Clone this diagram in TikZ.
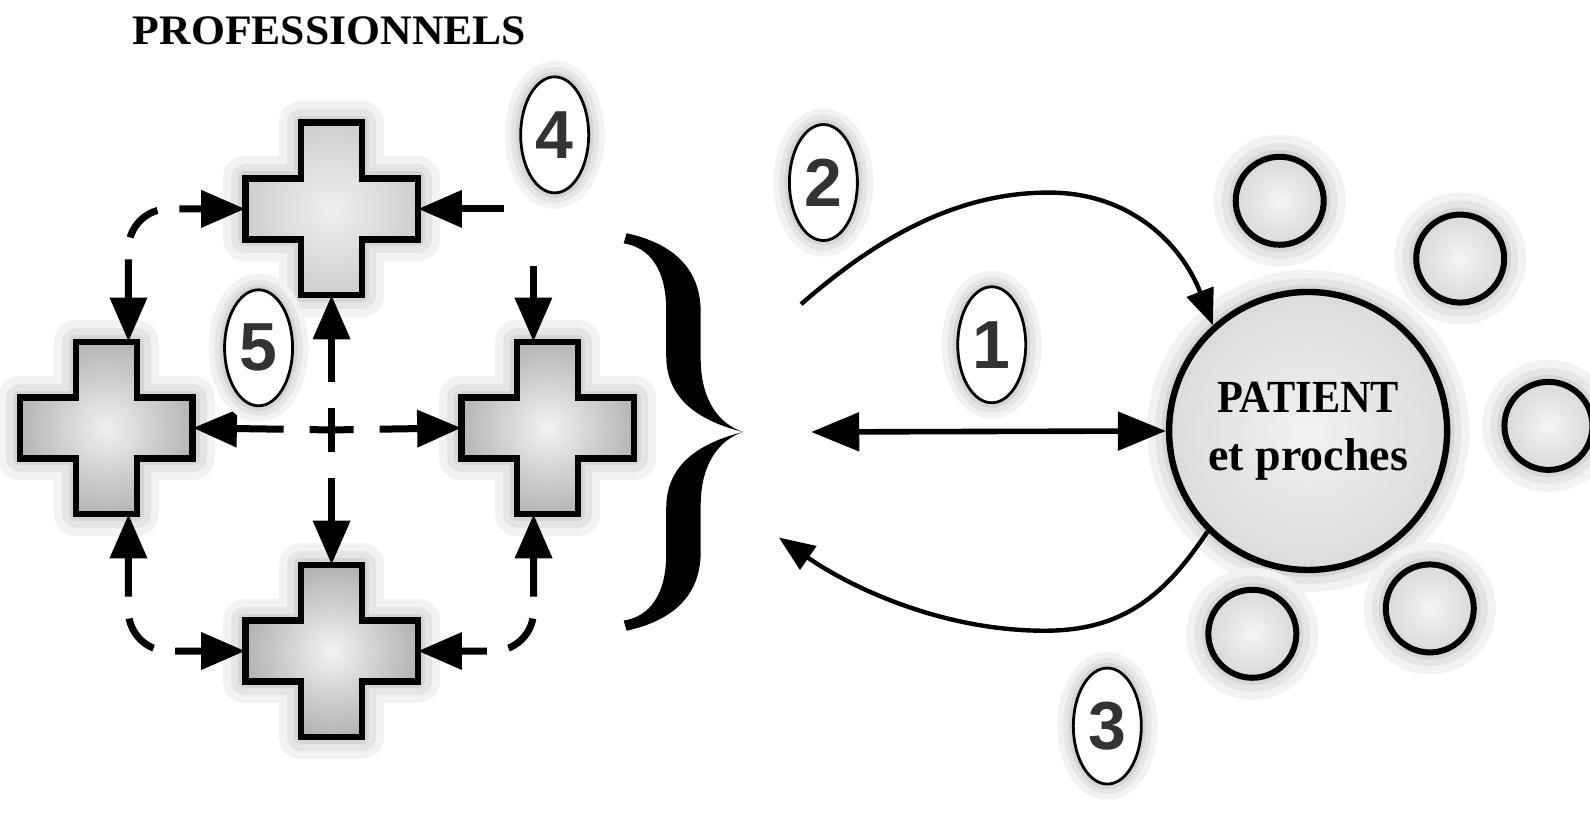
\documentclass[tikz,border=0pt]{standalone}
\usepackage{fontspec}
\setmainfont{Liberation Serif}
\newfontfamily\digitfont{Liberation Sans}
\usetikzlibrary{arrows.meta,shapes.geometric}
\tikzset{
  dtip/.tip={Triangle[length=22pt,width=18pt]},
  rtip/.tip={Triangle[length=24pt,width=19pt]},
  ctip/.tip={Triangle[length=18pt,width=14pt]},
}
\begin{document}
\begin{tikzpicture}[x=0.507pt,y=-0.507pt,
  crossnode/.style={rectangle,minimum size=86pt,inner sep=0pt},
  halo/.style={preaction={draw=gray!10,line width=22pt},preaction={draw=gray!20,line width=14pt},preaction={draw=gray!32,line width=7pt}},
  smallhalo/.style={preaction={draw=gray!10,line width=16pt},preaction={draw=gray!20,line width=10pt},preaction={draw=gray!32,line width=5pt}},
  numoval/.style={ellipse,draw=black,line width=1.4pt,fill=white,inner sep=0pt,minimum width=34pt,minimum height=58pt,smallhalo,font=\digitfont\bfseries\fontsize{34}{34}\selectfont,text=black!80},
  ring/.style={circle,draw=black,line width=3pt,inner color=gray!8,outer color=gray!30,inner sep=0pt,minimum size=44pt,halo},
  loopdash/.style={line width=3.5pt,dash pattern=on 20pt off 11pt,rounded corners=20pt},
  centerdash/.style={line width=3.5pt,dash pattern=on 11pt off 13pt on 300pt,-dtip},
]
\useasboundingbox (0,0) rectangle (1568,812.6);
\def\crosspath{(-85,-30) -- (-30,-30) -- (-30,-85) -- (30,-85) -- (30,-30) -- (85,-30) -- (85,30) -- (30,30) -- (30,85) -- (-30,85) -- (-30,30) -- (-85,30) -- cycle}
\def\bracehalf{(-115,-196) .. controls (-70,-186) and (-42,-162) .. (-42,-118) -- (-42,-72) .. controls (-42,-33) and (-25,-8) .. (0,0) .. controls (-40,-10) and (-76,-30) .. (-76,-75) -- (-76,-120) .. controls (-76,-160) and (-92,-182) .. (-118,-186) -- cycle}

% title
\node[font=\bfseries\fontsize{21}{21}\selectfont] (prof) at (325,30) {\scalebox{1.04}[1]{PROFESSIONNELS}};

% crosses
\node[crossnode] (T) at (327,206) {};
\node[crossnode] (L) at (105,422) {};
\node[crossnode] (R) at (540,422) {};
\node[crossnode] (B) at (327,642) {};
\coordinate (C) at (327,424);
\foreach \n/\ic/\oc in {T/gray!12/gray!38, L/gray!12/gray!58, R/gray!10/gray!58, B/gray!10/gray!60}{
  \begin{scope}[shift={(\n.center)}]
    \draw[line join=round,draw=gray!10,line width=22pt] \crosspath;
    \draw[line join=round,draw=gray!20,line width=14pt] \crosspath;
    \draw[line join=round,draw=gray!32,line width=7pt] \crosspath;
    \draw[line width=3.2pt,inner color=\ic,outer color=\oc] \crosspath;
  \end{scope}
}

% brace
\fill[shift={(733,426)}] \bracehalf;
\fill[shift={(733,426)},yscale=-1] \bracehalf;

% patient and relatives
\node[circle,draw=black,line width=3.2pt,inner color=gray!10,outer color=gray!28,minimum size=139pt,inner sep=0pt,halo,align=center,font=\bfseries\fontsize{23}{29}\selectfont] (P) at (1290,425) {\scalebox{0.92}[1]{PATIENT}\\et proches};
\node[ring] (S1) at (1262,198) {};
\node[ring] (S2) at (1440,255) {};
\node[ring] (S3) at (1527,420) {};
\node[ring] (S4) at (1410,600) {};
\node[ring] (S5) at (1235,625) {};

% dashed connectors between professionals
\draw[centerdash] (C) -- (T.south);
\draw[centerdash] (C) -- (B.north);
\draw[centerdash] (C) -- (L.east);
\draw[centerdash] (C) -- (R.west);
\draw[loopdash,dtip-dtip] ([xshift=11pt]L.north) |- (T.west);
\draw[loopdash,dtip-dtip] ([xshift=11pt]L.south) |- (B.west);
\draw[loopdash,dtip-dtip] ([xshift=-7pt]R.south) |- (B.east);
\coordinate (c4a) at (497,206);
\coordinate (c4b) at (526,262);
\draw[line width=3.5pt,-dtip] (c4a) -- (T.east);
\draw[line width=3.5pt,-dtip] (c4b) -- (c4b |- R.north);

% connectors to patient
\coordinate (a1s) at (800,426);
\coordinate (a2s) at (790,300);
\coordinate (a3e) at (768,530);
\draw[line width=2.8pt,rtip-rtip] (a1s) -- (P.west);
\draw[line width=2.2pt,-ctip] (a2s) .. controls (870,230) and (950,188) .. (1040,190) .. controls (1115,192) and (1165,240) .. (P.132);
\draw[line width=2.2pt,-ctip] (P.225) .. controls (1150,585) and (1110,622) .. (1030,622) .. controls (930,622) and (840,580) .. (a3e);

% number labels
\node[numoval] (n4) at (547,133) {4};
\node[numoval] (n5) at (255,343) {5};
\node[numoval] (n2) at (812,180) {2};
\node[numoval] (n1) at (978,340) {1};
\node[numoval] (n3) at (1092,716) {3};
\end{tikzpicture}
\end{document}
